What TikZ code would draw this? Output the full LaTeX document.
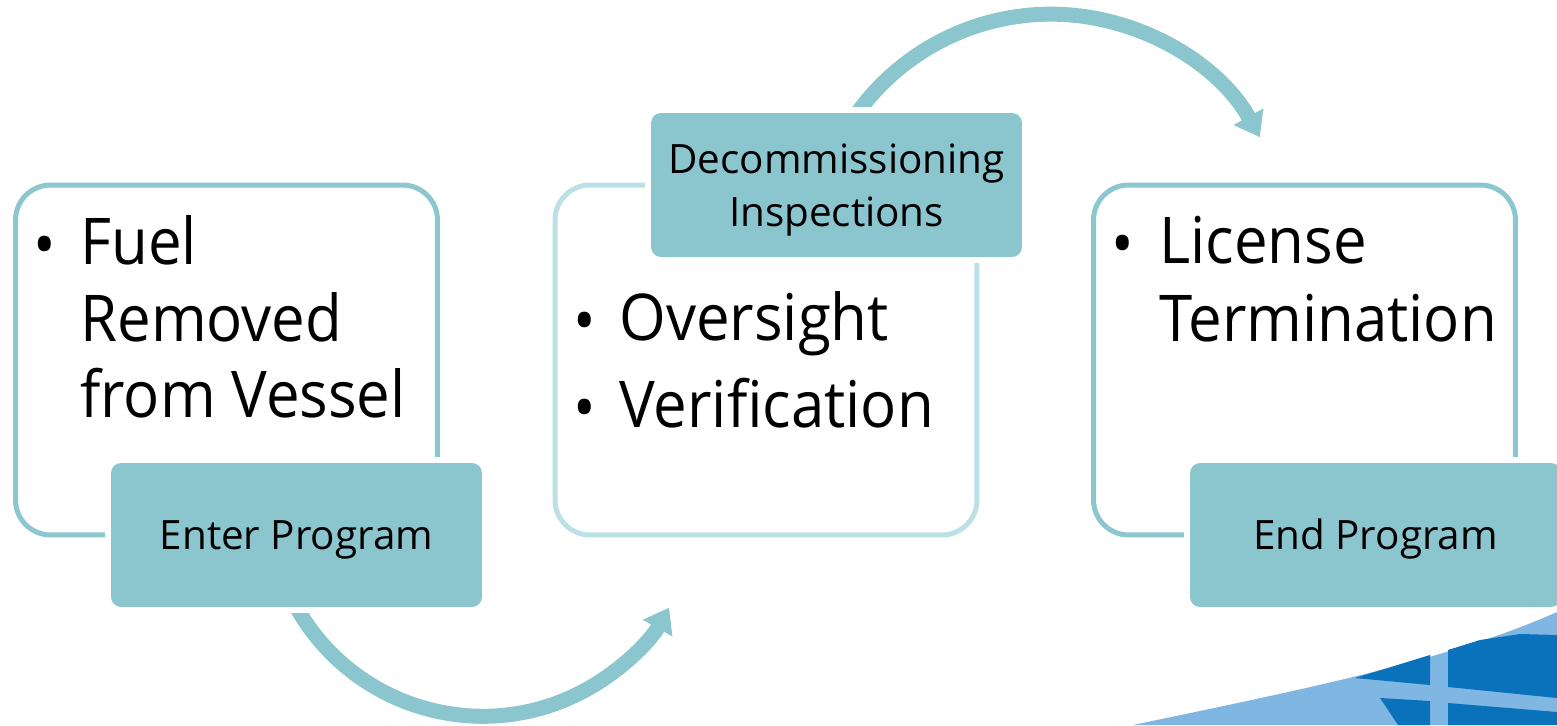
\documentclass[tikz,border=0pt]{standalone}
\usepackage{fontspec}
\setmainfont{Open Sans}
\newfontfamily\stagefont[FakeStretch=0.93]{Open Sans}
\usetikzlibrary{arrows.meta,backgrounds}

\definecolor{tealbox}{HTML}{8BC6CE}
\definecolor{tealline}{HTML}{8CC6CF}
\definecolor{tealpale}{HTML}{BBE0E5}
\definecolor{nrcblue}{HTML}{0A71BB}
\definecolor{nrcsky}{HTML}{80B7E2}

\tikzset{
  stageframe/.style={draw=tealline, line width=0.1cm, rounded corners=0.7cm,
    minimum width=8.44cm, minimum height=7cm, inner sep=0pt},
  tagbox/.style={fill=tealbox, rounded corners=0.2cm, minimum width=7.42cm,
    minimum height=2.88cm, inner sep=0pt, align=center, text depth=0pt,
    font=\fontsize{23}{30}\selectfont, preaction={draw=white, line width=0.24cm}},
  bigtxt/.style={anchor=base west, inner sep=0pt, font=\stagefont\fontsize{36.7}{44}\selectfont},
  bulletmark/.style={anchor=base, inner sep=0pt, font=\stagefont\fontsize{36.7}{44}\selectfont},
  flow/.style={draw=tealbox, line width=0.3cm, -{Triangle[length=0.47cm,width=0.65cm]}}
}

\begin{document}
\begin{tikzpicture}[x=0.02cm, y=0.02cm]
  \useasboundingbox (0,0) rectangle (1557,725);

  % corner logo
  \fill[nrcsky] (1133,0) .. controls (1300,35) and (1450,65) .. (1557,113) -- (1557,0) -- cycle;
  \fill[nrcblue] (1355,47) -- (1430,70) -- (1430,40) -- cycle;
  \fill[nrcblue] (1448,75) -- (1480,85) -- (1520,91) -- (1557,90) -- (1557,27) -- (1448,38) -- cycle;
  \fill[nrcblue] (1380,27) -- (1430,24) -- (1430,0) -- (1398,0) -- cycle;
  \fill[nrcblue] (1448,22) -- (1557,13) -- (1557,0) -- (1448,0) -- cycle;

  % stages
  \node[stageframe] (lframe) at (226.5,365) {};
  \node[stageframe, draw=tealpale] (mframe) at (766,365) {};
  \node[stageframe] (rframe) at (1304.5,365) {};

  % tag boxes
  \node[tagbox, text height=16.4pt] (enter) at (296.5,190) {Enter Program};
  \node[tagbox] (decomm) at (836.5,540) {Decommissioning\\Inspections};
  \node[tagbox, text height=16.4pt] (endp) at (1375.5,190) {End Program};

  % arrows, behind the boxes
  \begin{scope}[on background layer]
    \draw[flow] (enter.south) arc[start angle=209.4, end angle=330.5, radius=4.28cm];
    \draw[flow] ([xshift=0.42cm]decomm.north) arc[start angle=144, end angle=29, radius=4.78cm];
  \end{scope}

  % bullet texts
  \node[bulletmark] (bulA) at (45,458) {\textbullet};
  \node[bigtxt] (fuelA) at (80,461) {Fuel};
  \node[bigtxt] (fuelB) at (80,384) {Removed};
  \node[bigtxt] (fuelC) at (80,308) {from Vessel};

  \node[bulletmark] (bulB) at (585,382) {\textbullet};
  \node[bigtxt] (overs) at (619,385) {Oversight};
  \node[bulletmark] (bulC) at (585,295) {\textbullet};
  \node[bigtxt] (verif) at (619,298) {Verification};

  \node[bulletmark] (bulD) at (1123,459) {\textbullet};
  \node[bigtxt] (licA) at (1159,462) {License};
  \node[bigtxt] (licB) at (1159,384) {Termination};
\end{tikzpicture}
\end{document}
